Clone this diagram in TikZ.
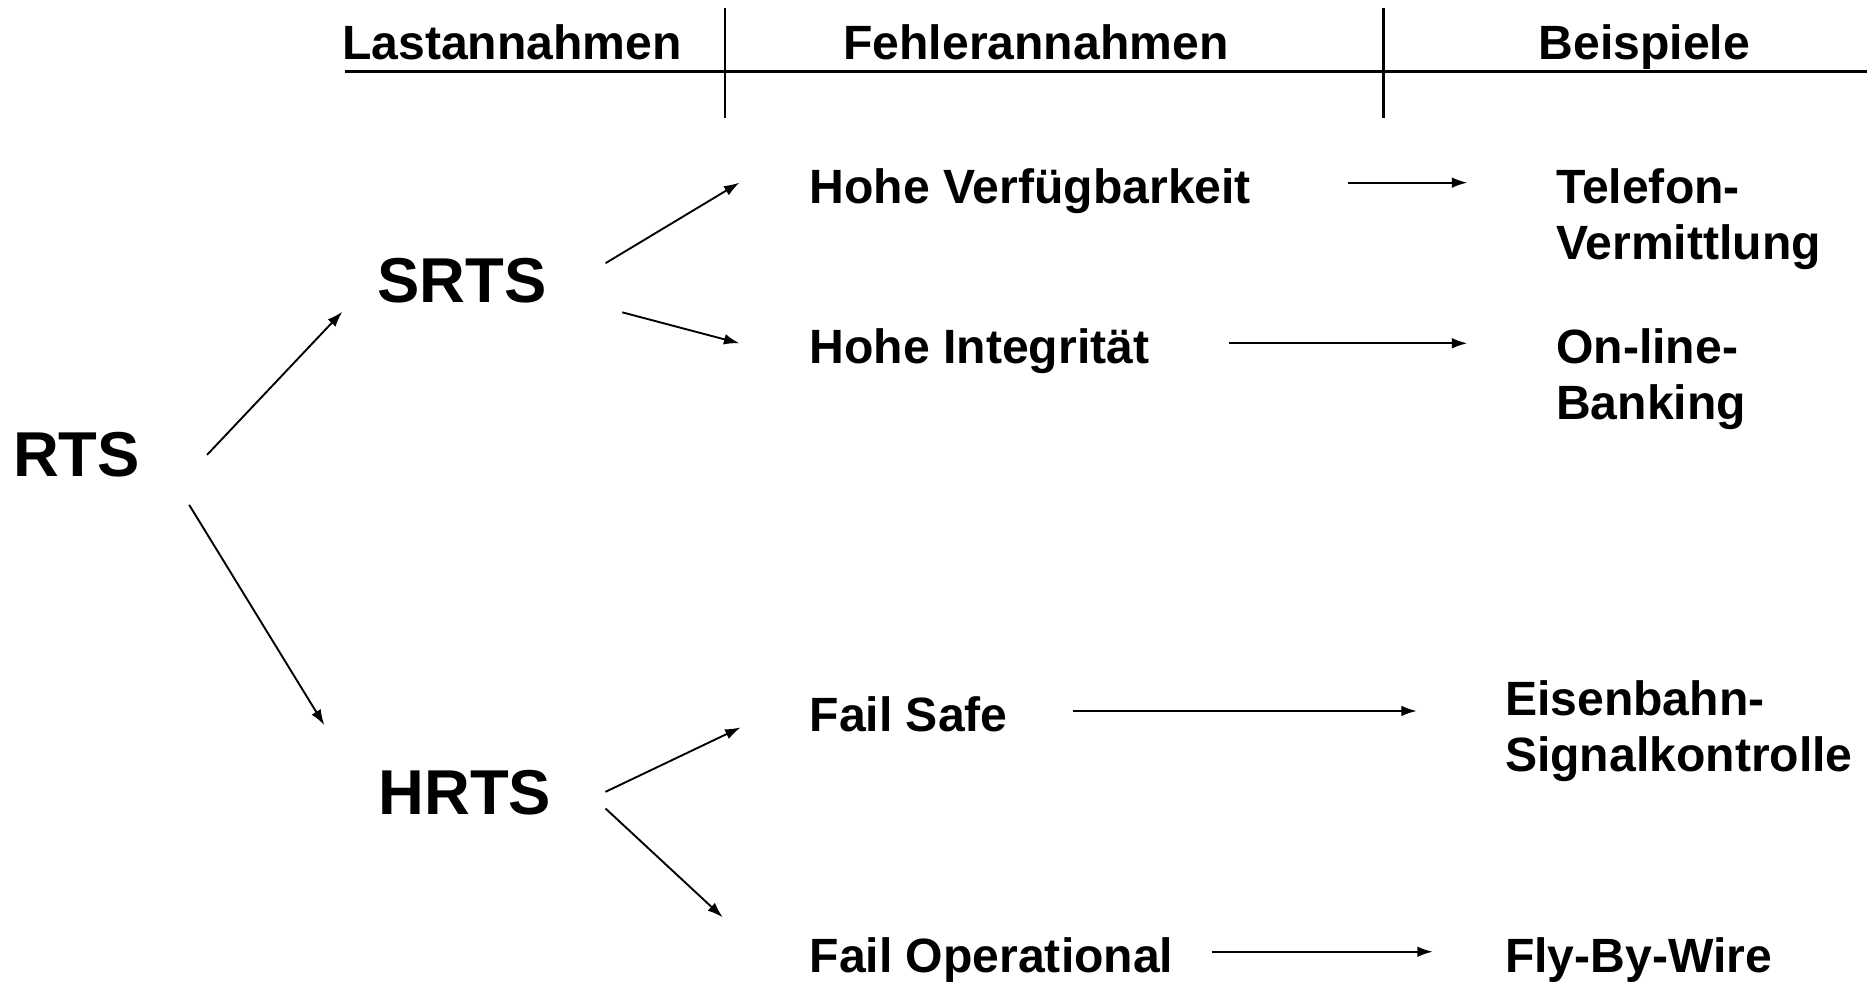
\documentclass[tikz,border=0pt]{standalone}
\usepackage{fontspec}
\setmainfont{Liberation Sans}
\usetikzlibrary{arrows.meta,positioning}
\tikzset{
    term/.style={inner sep=0pt,outer sep=0pt,anchor=base west,align=left,
                 font=\fontsize{11.5}{13.4}\selectfont\bfseries},
    big/.style={term,font=\fontsize{15.15}{17}\selectfont\bfseries},
    head/.style={term,anchor=base},
    pre/.style={-{Latex[length=1.3mm,width=0.9mm]},line width=0.45pt},
    rule/.style={line width=0.55pt}
}
\begin{document}
\begin{tikzpicture}[x=0.1mm,y=-0.1mm]
    \useasboundingbox (0,0) rectangle (1568,824);

    % column heads
    \node[head] (last)   at (430,50)  {Lastannahmen};
    \node[head] (fehler) at (870,50)  {Fehlerannahmen};
    \node[head] (beisp)  at (1381,50) {Beispiele};
    \draw[rule] (290,60) -- (1568,60);
    \draw[rule] (609,7) -- (609,99);
    \draw[rule] (1162,7) -- (1162,99);

    % systems
    \node[big] (rts)  at (11,400)  {RTS};
    \node[big] (srts) at (317,254) {SRTS};
    \node[big] (hrts) at (318,684) {HRTS};

    % fault assumptions
    \node[term] (verf)     at (680,171) {Hohe Verfügbarkeit};
    \node[term] (integ)    at (680,305) {Hohe Integrität};
    \node[term] (failsafe) at (680,614) {Fail Safe};
    \node[term] (failop)   at (680,817) {Fail Operational};

    % examples (base = last line)
    \node[term] (tel)    at (1307,218) {Telefon-\\Vermittlung};
    \node[term] (online) at (1307,352) {On-line-\\Banking};
    \node[term] (eisen)  at (1264,648) {Eisenbahn-\\Signalkontrolle};
    \node[term] (fly)    at (1264,817) {Fly-By-Wire};

    \draw[pre] ([shift={(56.4,-18)}]rts.base east)  -- ([shift={(-29.5,7.8)}]srts.base west);
    \draw[pre] ([shift={(41.4,24)}]rts.base east)   -- ([shift={(-45.6,-75)}]hrts.base west);
    \draw[pre] ([shift={(49.6,-33)}]srts.base east) -- ([shift={(-59,-17.6)}]verf.base west);
    \draw[pre] ([shift={(63.6,8.3)}]srts.base east) -- ([shift={(-59,-16.7)}]integ.base west);
    \draw[pre] ([shift={(45.6,-19)}]hrts.base east) -- ([shift={(-58,-3.1)}]failsafe.base west);
    \draw[pre] ([shift={(45.6,-5)}]hrts.base east)  -- ([shift={(-73,-46.6)}]failop.base west);

    \draw[pre] ([shift={(81.8,-17.6)}]verf.base east)     -- ([shift={(-74.7,-64.6)}]tel.base west);
    \draw[pre] ([shift={(67.3,-16.7)}]integ.base east)    -- ([shift={(-74.7,-63.7)}]online.base west);
    \draw[pre] ([shift={(54.8,-16.9)}]failsafe.base east) -- ([shift={(-74.1,-50.9)}]eisen.base west);
    \draw[pre] ([shift={(32.2,-17.7)}]failop.base east)   -- ([shift={(-60.7,-17.7)}]fly.base west);
\end{tikzpicture}
\end{document}
